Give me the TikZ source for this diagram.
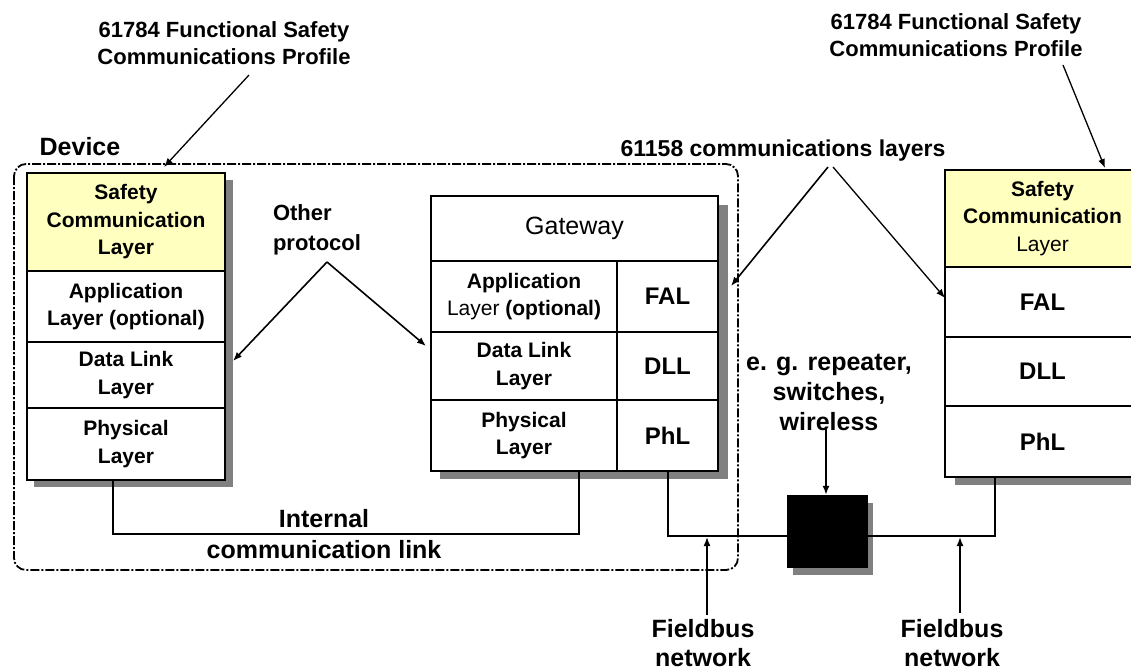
\documentclass[tikz,border=0pt]{standalone}
\usepackage{fontspec}
\setmainfont{Liberation Sans}
\usetikzlibrary{arrows.meta}
\definecolor{sclyellow}{RGB}{255,255,192}
\definecolor{shadowgray}{RGB}{128,128,128}
\begin{document}
\begin{tikzpicture}[x=1pt,y=-1pt,
  cell/.style={draw, line width=1.5pt, inner sep=0pt, align=center, fill=white,
    font=\bfseries\fontsize{21}{27.5}\selectfont},
  abbr/.style={cell, font=\bfseries\fontsize{24}{28}\selectfont},
  shade/.style={fill=shadowgray},
  lbl/.style={inner sep=0pt, align=center, font=\bfseries\fontsize{22}{27}\selectfont},
  biglbl/.style={inner sep=0pt, align=center, font=\bfseries\fontsize{25}{31}\selectfont},
  baselbl/.style={inner sep=0pt, anchor=base, font=\bfseries\fontsize{25}{30}\selectfont},
  devbox/.style={line width=1.8pt, rounded corners=12pt, dash pattern=on 9pt off 2pt on 2pt off 2pt},
  link/.style={line width=1.2pt},
  arr/.style={line width=1.6pt, -{Latex[length=9pt,width=7pt]}},
  thinarr/.style={line width=1.3pt, -{Latex[length=9pt,width=7pt]}}]
\useasboundingbox (0,0) rectangle (1131,670);
\clip (0,0) rectangle (1131,670);
\fill[white] (0,0) rectangle (1131,670);

% device boundary
\draw[devbox] (14,164) rectangle (738,570);
\node[biglbl] (devlbl) at (80,147) {Device};

% shadows
\fill[shade] (34,180) rectangle (233,487);
\fill[shade] (440,205) rectangle (728,479);
\fill[shade] (955,180) rectangle (1150,485);
\fill[shade] (793,503) rectangle (873,575);

% left stack
\node[cell, fill=sclyellow, minimum width=198, minimum height=98] (lscl) at (126,222) {Safety\\Communication\\Layer};
\node[cell, minimum width=198, minimum height=71] (lapp) at (126,306.5) {Application\\Layer (optional)};
\node[cell, minimum width=198, minimum height=66] (ldll) at (126,375) {Data Link\\Layer};
\node[cell, minimum width=198, minimum height=72] (lphy) at (126,444) {Physical\\Layer};

% gateway
\node[cell, minimum width=287, minimum height=65, font=\fontsize{25}{30}\selectfont] (gw) at (574.5,228.5) {Gateway};
\node[cell, minimum width=186, minimum height=71] (gapp) at (524,296.5) {Application\\{\mdseries Layer} (optional)};
\node[abbr, minimum width=101, minimum height=71] (gfal) at (667.5,296.5) {FAL};
\node[cell, minimum width=186, minimum height=68] (gdll) at (524,366) {Data Link\\Layer};
\node[abbr, minimum width=101, minimum height=68] (gdllr) at (667.5,366) {DLL};
\node[cell, minimum width=186, minimum height=71] (gphy) at (524,435.5) {Physical\\Layer};
\node[abbr, minimum width=101, minimum height=71] (gphl) at (667.5,435.5) {PhL};

% right stack
\node[cell, fill=sclyellow, minimum width=195, minimum height=97] (rscl) at (1042.5,218.5) {Safety\\Communication\\{\mdseries Layer}};
\node[abbr, minimum width=195, minimum height=70] (rfal) at (1042.5,302) {FAL};
\node[abbr, minimum width=195, minimum height=69] (rdll) at (1042.5,371.5) {DLL};
\node[abbr, minimum width=195, minimum height=71] (rphl) at (1042.5,441.5) {PhL};

% repeater box
\node[draw, fill=black, minimum width=80, minimum height=72, inner sep=0pt] (rep) at (827,531) {};

% internal link
\coordinate (ilA) at (113,480);
\coordinate (ilB) at (579,471);
\draw[link] (ilA) -- ++(0,54) -| (ilB);
\node[biglbl] (illbl) at (324,534) {Internal\\communication link};

% fieldbus
\coordinate (fbA) at (668,471);
\coordinate (fbB) at (787,536);
\coordinate (fbC) at (867,536);
\coordinate (fbD) at (995,477);
\draw[link] (fbA) |- (fbB);
\draw[link] (fbC) -| (fbD);

% labels
\node[lbl] (tl) at (224,43) {61784 Functional Safety\\Communications Profile};
\node[lbl] (tr) at (956,35) {61784 Functional Safety\\Communications Profile};
\node[lbl, font=\bfseries\fontsize{23}{28}\selectfont] (cl) at (783,151) {61158 communications layers};
\node[lbl, align=left, font=\bfseries\fontsize{22}{30}\selectfont] (op) at (317,230) {Other\\protocol};
\node[biglbl, font=\bfseries\fontsize{25}{30}\selectfont] (eg) at (829,392) {e. g. repeater,\\switches,\\wireless};
\node[baselbl] (fb1a) at (703,637) {Fieldbus};
\node[baselbl] (fb1b) at (703,666) {network};
\node[baselbl] (fb2a) at (952,637) {Fieldbus};
\node[baselbl] (fb2b) at (952,666) {network};

% arrows
\coordinate (tlS) at (249,75);
\coordinate (tlE) at (164,167);
\draw[thinarr] (tlS) -- (tlE);
\coordinate (trS) at (1063,65);
\coordinate (trE) at (1105,168);
\draw[thinarr] (trS) -- (trE);
\coordinate (clA) at (828,167);
\coordinate (clB) at (833,167);
\coordinate (clE1) at (731,286);
\coordinate (clE2) at (945,298);
\draw[arr] (clA) -- (clE1);
\draw[thinarr] (clB) -- (clE2);
\coordinate (opA) at (327,262);
\coordinate (opE1) at (233,361);
\coordinate (opE2) at (426,346);
\draw[arr] (opA) -- (opE1);
\draw[arr] (opA) -- (opE2);
\coordinate (egA) at (826,428);
\draw[arr] (egA) -- (rep.north -| egA);
\coordinate (fb1A) at (707,615);
\coordinate (fb1E) at (707,537);
\draw[arr] (fb1A) -- (fb1E);
\coordinate (fb2A) at (960,613);
\coordinate (fb2E) at (960,537);
\draw[arr] (fb2A) -- (fb2E);
\end{tikzpicture}
\end{document}
